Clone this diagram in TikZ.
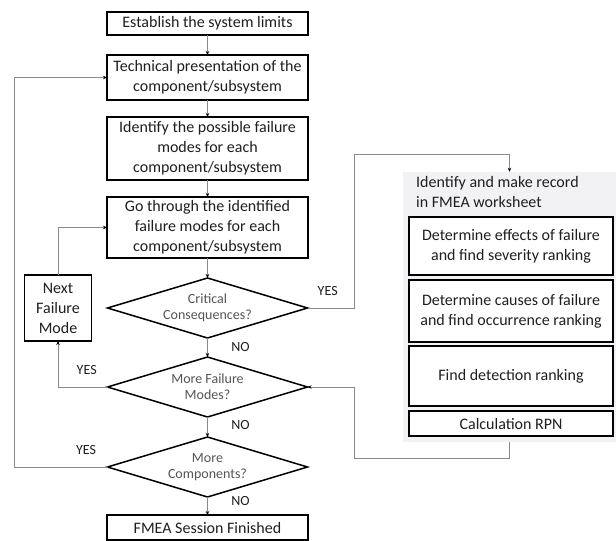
\documentclass[tikz,border=0pt]{standalone}
\usepackage{fontspec}
\setmainfont{Carlito}
\usetikzlibrary{arrows.meta,positioning,fit,calc,shapes.geometric,backgrounds}
\definecolor{txt}{HTML}{1F1F1F}
\definecolor{dtxt}{HTML}{555555}
\definecolor{conn}{HTML}{8A8A8A}
\definecolor{panelgray}{HTML}{F2F1F3}

\begin{document}
\begin{tikzpicture}[x=1pt,y=-1pt,>={Stealth[length=4pt,width=3.5pt]},
  font=\fontsize{16}{20}\selectfont,text=txt,
  stepbox/.style={draw=black,fill=white,line width=1.5pt,align=center,minimum width=201pt,inner sep=2pt,outer sep=0pt},
  sidebox/.style={stepbox,minimum width=204pt},
  test/.style={draw=black,fill=white,line width=1.5pt,shape=diamond,aspect=3.33,inner sep=0pt,outer sep=0pt,
    minimum width=200pt,minimum height=60pt,align=center,text=dtxt,
    font=\fontsize{14}{16}\selectfont},
  conn/.style={draw=conn,line width=0.8pt},
  arr/.style={conn,-{Stealth[length=4pt,width=3.5pt,fill=black,color=black]}},
  ans/.style={font=\fontsize{14}{16}\selectfont,text=txt}]
  \useasboundingbox (0,0) rectangle (616,541);
  % main column
  \node[stepbox,minimum height=23pt] (limits) at (207.5,23.5) {Establish the system limits};
  \node[stepbox,minimum height=45pt,below=20pt of limits] (present) {Technical presentation of the\\component/subsystem};
  \node[stepbox,minimum height=63pt,below=17pt of present] (modes) {Identify the possible failure\\modes for each\\component/subsystem};
  \node[stepbox,minimum height=61pt,below=17pt of modes] (through) {Go through the identified\\failure modes for each\\component/subsystem};
  \node[test,below=20pt of through] (crit) {Critical\\Consequences?};
  \node[test,below=19pt of crit] (morefm) {More Failure\\Modes?};
  \node[test,below=20pt of morefm] (morecomp) {More\\Components?};
  \node[stepbox,minimum height=25pt,below=18pt of morecomp] (done) {FMEA Session Finished};
  \node[draw=black,line width=1.5pt,align=center,minimum width=67pt,minimum height=66pt,
    inner sep=1pt,outer sep=0pt,left=16pt of crit] (next) {Next\\Failure\\Mode};
  % worksheet panel
  \node[align=left,anchor=north west,inner sep=0pt] (head) at (416,176) {Identify and make record\\in FMEA worksheet};
  \node[sidebox,minimum height=58pt] (effects) at (511,246) {Determine effects of failure\\and find severity ranking};
  \node[sidebox,minimum height=62pt,below=5pt of effects] (causes) {Determine causes of failure\\and find occurrence ranking};
  \node[sidebox,minimum height=60pt,below=4pt of causes] (detect) {Find detection ranking};
  \node[sidebox,minimum height=25pt,below=5pt of detect] (rpn) {Calculation RPN};
  \begin{scope}[on background layer]
    \node[fill=panelgray,inner sep=0pt,fit={(403,172) (616,442)}] (panel) {};
  \end{scope}
  % connectors
  \draw[arr] (limits) -- (present);
  \draw[arr] (present) -- (modes);
  \draw[arr] (modes) -- (through);
  \draw[arr] (through) -- (crit);
  \draw[arr] (crit) -- (morefm) node[ans,midway,xshift=33pt] {NO};
  \draw[arr] (morefm) -- (morecomp) node[ans,pos=0.4,xshift=33pt] {NO};
  \draw[arr] (morecomp) -- (done) node[ans,pos=0.2,xshift=33pt] {NO};
  \draw[arr] (morefm.west) -| (next.south) node[ans,pos=0.21,above=9pt] {YES};
  \draw[arr] (next.north) |- (through.west);
  \draw[arr] (morecomp.west) -- ++(-93pt,0) node[ans,pos=0.23,above=9pt] {YES} |- (present.west);
  \draw[arr] (crit.east) -- ++(47pt,0) node[ans,pos=0.43,above=9pt] {YES} |- ([yshift=17pt]panel.north) -- (panel.north);
  \draw[arr] (panel.south) -- ++(0,-16pt) -| ([xshift=47pt]morefm.east) -- (morefm.east);
\end{tikzpicture}
\end{document}
